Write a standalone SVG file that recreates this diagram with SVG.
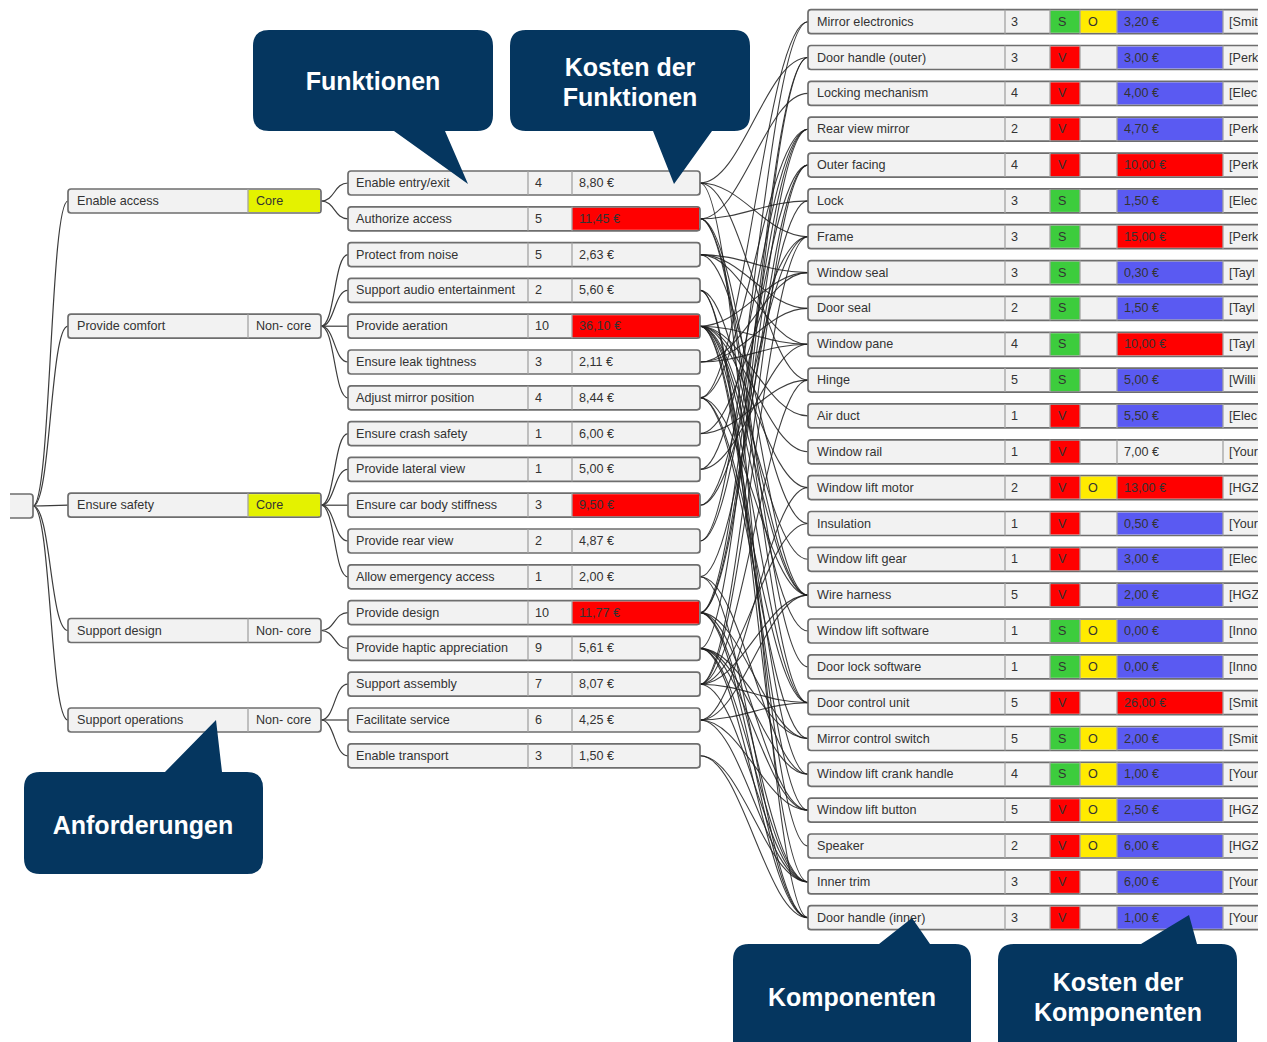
<svg xmlns="http://www.w3.org/2000/svg" xmlns:xlink="http://www.w3.org/1999/xlink" width="1267" height="1042" viewBox="0 0 1267 1042">
  <style>
    .box { fill:#f2f2f2; stroke:#6e6e6e; stroke-width:1.7; }
    .div { fill:none; stroke:#a3a3a3; stroke-width:1.3; }
    .t { font-family:"Liberation Sans", Arial, sans-serif; font-size:12.6px; fill:#333; }
    .red { fill:#ff0000; }
    .blue { fill:#5a5af2; }
    .grn { fill:#3dcc3d; }
    .ylw { fill:#ffeb00; }
    .core { fill:#e4f200; }
    .link { fill:none; stroke:#1c1c1c; stroke-width:1.1; stroke-opacity:0.85; }
    .tree { fill:none; stroke:#3c3c3c; stroke-width:1.2; }
    .callout { fill:#05365f; }
    .ct { font-family:"Liberation Sans", Arial, sans-serif; font-weight:bold; font-size:25px; fill:#ffffff; text-anchor:middle; }
  </style>
  <defs>
    <clipPath id="pageRight"><rect x="0" y="0" width="1258" height="1042"/></clipPath>
    <path id="funcDiv" class="div" d="M528,-12v24M572,-12v24"/>
    <path id="reqDiv" class="div" d="M248,-12v24"/>
    <path id="compDiv" class="div" d="M1005,-12v24M1050,-12v24M1080,-12v24M1117,-12v24M1223,-12v24"/>
  </defs>

  <rect width="1267" height="1042" fill="#ffffff"/>

  <!-- tree and allocation connectors -->
  <g id="connectors">
    <!-- root to requirements -->
    <path class="tree" d="M33,506C51,506 50,201 68,201"/>
    <path class="tree" d="M33,506C51,506 50,326.2 68,326.2"/>
    <path class="tree" d="M33,506C51,506 50,505.2 68,505.2"/>
    <path class="tree" d="M33,506C51,506 50,630.5 68,630.5"/>
    <path class="tree" d="M33,506C51,506 50,720 68,720"/>
    <!-- requirements to functions -->
    <path class="tree" d="M321,201C335,201 334,183 348,183"/>
    <path class="tree" d="M321,201C335,201 334,218.8 348,218.8"/>
    <path class="tree" d="M321,326.2C335,326.2 334,254.6 348,254.6"/>
    <path class="tree" d="M321,326.2C335,326.2 334,290.4 348,290.4"/>
    <path class="tree" d="M321,326.2C335,326.2 334,326.2 348,326.2"/>
    <path class="tree" d="M321,326.2C335,326.2 334,362 348,362"/>
    <path class="tree" d="M321,326.2C335,326.2 334,397.8 348,397.8"/>
    <path class="tree" d="M321,505.2C335,505.2 334,433.6 348,433.6"/>
    <path class="tree" d="M321,505.2C335,505.2 334,469.4 348,469.4"/>
    <path class="tree" d="M321,505.2C335,505.2 334,505.2 348,505.2"/>
    <path class="tree" d="M321,505.2C335,505.2 334,541 348,541"/>
    <path class="tree" d="M321,505.2C335,505.2 334,576.8 348,576.8"/>
    <path class="tree" d="M321,630.5C335,630.5 334,612.6 348,612.6"/>
    <path class="tree" d="M321,630.5C335,630.5 334,648.4 348,648.4"/>
    <path class="tree" d="M321,720C335,720 334,684.2 348,684.2"/>
    <path class="tree" d="M321,720C335,720 334,720 348,720"/>
    <path class="tree" d="M321,720C335,720 334,755.8 348,755.8"/>

    <!-- functions to components -->
    <path class="link" d="M700,183C742,183 766,57.5 808,57.5"/>
    <path class="link" d="M700,183C742,183 766,236.7 808,236.7"/>
    <path class="link" d="M700,183C742,183 766,380.1 808,380.1"/>
    <path class="link" d="M700,183C742,183 766,917.7 808,917.7"/>

    <path class="link" d="M700,218.8C742,218.8 766,93.4 808,93.4"/>
    <path class="link" d="M700,218.8C742,218.8 766,200.9 808,200.9"/>
    <path class="link" d="M700,218.8C742,218.8 766,666.8 808,666.8"/>
    <path class="link" d="M700,218.8C742,218.8 766,702.7 808,702.7"/>
    <path class="link" d="M700,218.8C742,218.8 766,595.1 808,595.1"/>

    <path class="link" d="M700,254.6C742,254.6 766,272.6 808,272.6"/>
    <path class="link" d="M700,254.6C742,254.6 766,308.4 808,308.4"/>
    <path class="link" d="M700,254.6C742,254.6 766,523.5 808,523.5"/>
    <path class="link" d="M700,254.6C742,254.6 766,344.3 808,344.3"/>

    <path class="link" d="M700,290.4C742,290.4 766,846 808,846"/>
    <path class="link" d="M700,290.4C742,290.4 766,881.9 808,881.9"/>
    <path class="link" d="M700,290.4C742,290.4 766,595.1 808,595.1"/>

    <path class="link" d="M700,326.2C742,326.2 766,344.3 808,344.3"/>
    <path class="link" d="M700,326.2C742,326.2 766,415.9 808,415.9"/>
    <path class="link" d="M700,326.2C742,326.2 766,451.8 808,451.8"/>
    <path class="link" d="M700,326.2C742,326.2 766,487.6 808,487.6"/>
    <path class="link" d="M700,326.2C742,326.2 766,559.3 808,559.3"/>
    <path class="link" d="M700,326.2C742,326.2 766,595.1 808,595.1"/>
    <path class="link" d="M700,326.2C742,326.2 766,631 808,631"/>
    <path class="link" d="M700,326.2C742,326.2 766,702.7 808,702.7"/>
    <path class="link" d="M700,326.2C742,326.2 766,774.3 808,774.3"/>
    <path class="link" d="M700,326.2C742,326.2 766,810.2 808,810.2"/>
    <path class="link" d="M700,326.2C742,326.2 766,272.6 808,272.6"/>

    <path class="link" d="M700,362C742,362 766,272.6 808,272.6"/>
    <path class="link" d="M700,362C742,362 766,308.4 808,308.4"/>
    <path class="link" d="M700,362C742,362 766,344.3 808,344.3"/>

    <path class="link" d="M700,397.8C742,397.8 766,21.7 808,21.7"/>
    <path class="link" d="M700,397.8C742,397.8 766,129.2 808,129.2"/>
    <path class="link" d="M700,397.8C742,397.8 766,738.5 808,738.5"/>
    <path class="link" d="M700,397.8C742,397.8 766,595.1 808,595.1"/>
    <path class="link" d="M700,397.8C742,397.8 766,702.7 808,702.7"/>

    <path class="link" d="M700,433.6C742,433.6 766,236.7 808,236.7"/>
    <path class="link" d="M700,433.6C742,433.6 766,380.1 808,380.1"/>

    <path class="link" d="M700,469.4C742,469.4 766,344.3 808,344.3"/>
    <path class="link" d="M700,469.4C742,469.4 766,129.2 808,129.2"/>

    <path class="link" d="M700,505.2C742,505.2 766,236.7 808,236.7"/>
    <path class="link" d="M700,505.2C742,505.2 766,165.1 808,165.1"/>

    <path class="link" d="M700,541C742,541 766,129.2 808,129.2"/>
    <path class="link" d="M700,541C742,541 766,21.7 808,21.7"/>

    <path class="link" d="M700,576.8C742,576.8 766,774.3 808,774.3"/>
    <path class="link" d="M700,576.8C742,576.8 766,917.7 808,917.7"/>
    <path class="link" d="M700,576.8C742,576.8 766,200.9 808,200.9"/>

    <path class="link" d="M700,612.6C742,612.6 766,165.1 808,165.1"/>
    <path class="link" d="M700,612.6C742,612.6 766,57.5 808,57.5"/>
    <path class="link" d="M700,612.6C742,612.6 766,881.9 808,881.9"/>
    <path class="link" d="M700,612.6C742,612.6 766,129.2 808,129.2"/>
    <path class="link" d="M700,612.6C742,612.6 766,917.7 808,917.7"/>
    <path class="link" d="M700,612.6C742,612.6 766,810.2 808,810.2"/>
    <path class="link" d="M700,612.6C742,612.6 766,738.5 808,738.5"/>

    <path class="link" d="M700,648.4C742,648.4 766,57.5 808,57.5"/>
    <path class="link" d="M700,648.4C742,648.4 766,917.7 808,917.7"/>
    <path class="link" d="M700,648.4C742,648.4 766,810.2 808,810.2"/>
    <path class="link" d="M700,648.4C742,648.4 766,738.5 808,738.5"/>
    <path class="link" d="M700,648.4C742,648.4 766,774.3 808,774.3"/>
    <path class="link" d="M700,648.4C742,648.4 766,881.9 808,881.9"/>

    <path class="link" d="M700,684.2C742,684.2 766,236.7 808,236.7"/>
    <path class="link" d="M700,684.2C742,684.2 766,380.1 808,380.1"/>
    <path class="link" d="M700,684.2C742,684.2 766,595.1 808,595.1"/>
    <path class="link" d="M700,684.2C742,684.2 766,702.7 808,702.7"/>
    <path class="link" d="M700,684.2C742,684.2 766,881.9 808,881.9"/>
    <path class="link" d="M700,684.2C742,684.2 766,165.1 808,165.1"/>
    <path class="link" d="M700,684.2C742,684.2 766,523.5 808,523.5"/>

    <path class="link" d="M700,720C742,720 766,702.7 808,702.7"/>
    <path class="link" d="M700,720C742,720 766,595.1 808,595.1"/>
    <path class="link" d="M700,720C742,720 766,881.9 808,881.9"/>
    <path class="link" d="M700,720C742,720 766,487.6 808,487.6"/>
    <path class="link" d="M700,720C742,720 766,810.2 808,810.2"/>

    <path class="link" d="M700,755.8C742,755.8 766,881.9 808,881.9"/>
    <path class="link" d="M700,755.8C742,755.8 766,917.7 808,917.7"/>
  </g>

  <!-- root -->
  <g id="root">
    <path class="box" d="M10,494H30Q33,494 33,497V515Q33,518 30,518H10"/>
  </g>

  <!-- requirements -->
  <g id="req-enable-access" transform="translate(0,201)">
    <rect class="box" x="68" y="-12" width="253" height="24" rx="3"/>
    <rect class="core" x="248" y="-11" width="72" height="22"/>
    <use href="#reqDiv"/>
    <text class="t" x="77" y="4">Enable access</text>
    <text class="t" x="256" y="4">Core</text>
  </g>
  <g id="req-provide-comfort" transform="translate(0,326.2)">
    <rect class="box" x="68" y="-12" width="253" height="24" rx="3"/>
    <use href="#reqDiv"/>
    <text class="t" x="77" y="4">Provide comfort</text>
    <text class="t" x="256" y="4">Non- core</text>
  </g>
  <g id="req-ensure-safety" transform="translate(0,505.2)">
    <rect class="box" x="68" y="-12" width="253" height="24" rx="3"/>
    <rect class="core" x="248" y="-11" width="72" height="22"/>
    <use href="#reqDiv"/>
    <text class="t" x="77" y="4">Ensure safety</text>
    <text class="t" x="256" y="4">Core</text>
  </g>
  <g id="req-support-design" transform="translate(0,630.5)">
    <rect class="box" x="68" y="-12" width="253" height="24" rx="3"/>
    <use href="#reqDiv"/>
    <text class="t" x="77" y="4">Support design</text>
    <text class="t" x="256" y="4">Non- core</text>
  </g>
  <g id="req-support-operations" transform="translate(0,720)">
    <rect class="box" x="68" y="-12" width="253" height="24" rx="3"/>
    <use href="#reqDiv"/>
    <text class="t" x="77" y="4">Support operations</text>
    <text class="t" x="256" y="4">Non- core</text>
  </g>

  <!-- functions -->
  <g id="fn-enable-entry-exit" transform="translate(0,183)">
    <rect class="box" x="348" y="-12" width="352" height="24" rx="3"/>
    <use href="#funcDiv"/>
    <text class="t" x="356" y="4">Enable entry/exit</text><text class="t" x="535" y="4">4</text><text class="t" x="579" y="4">8,80 €</text>
  </g>
  <g id="fn-authorize-access" transform="translate(0,218.8)">
    <rect class="box" x="348" y="-12" width="352" height="24" rx="3"/>
    <rect class="red" x="572" y="-11" width="127" height="22"/>
    <use href="#funcDiv"/>
    <text class="t" x="356" y="4">Authorize access</text><text class="t" x="535" y="4">5</text><text class="t" x="579" y="4">11,45 €</text>
  </g>
  <g id="fn-protect-from-noise" transform="translate(0,254.6)">
    <rect class="box" x="348" y="-12" width="352" height="24" rx="3"/>
    <use href="#funcDiv"/>
    <text class="t" x="356" y="4">Protect from noise</text><text class="t" x="535" y="4">5</text><text class="t" x="579" y="4">2,63 €</text>
  </g>
  <g id="fn-support-audio" transform="translate(0,290.4)">
    <rect class="box" x="348" y="-12" width="352" height="24" rx="3"/>
    <use href="#funcDiv"/>
    <text class="t" x="356" y="4">Support audio entertainment</text><text class="t" x="535" y="4">2</text><text class="t" x="579" y="4">5,60 €</text>
  </g>
  <g id="fn-provide-aeration" transform="translate(0,326.2)">
    <rect class="box" x="348" y="-12" width="352" height="24" rx="3"/>
    <rect class="red" x="572" y="-11" width="127" height="22"/>
    <use href="#funcDiv"/>
    <text class="t" x="356" y="4">Provide aeration</text><text class="t" x="535" y="4">10</text><text class="t" x="579" y="4">36,10 €</text>
  </g>
  <g id="fn-ensure-leak-tightness" transform="translate(0,362)">
    <rect class="box" x="348" y="-12" width="352" height="24" rx="3"/>
    <use href="#funcDiv"/>
    <text class="t" x="356" y="4">Ensure leak tightness</text><text class="t" x="535" y="4">3</text><text class="t" x="579" y="4">2,11 €</text>
  </g>
  <g id="fn-adjust-mirror" transform="translate(0,397.8)">
    <rect class="box" x="348" y="-12" width="352" height="24" rx="3"/>
    <use href="#funcDiv"/>
    <text class="t" x="356" y="4">Adjust mirror position</text><text class="t" x="535" y="4">4</text><text class="t" x="579" y="4">8,44 €</text>
  </g>
  <g id="fn-ensure-crash-safety" transform="translate(0,433.6)">
    <rect class="box" x="348" y="-12" width="352" height="24" rx="3"/>
    <use href="#funcDiv"/>
    <text class="t" x="356" y="4">Ensure crash safety</text><text class="t" x="535" y="4">1</text><text class="t" x="579" y="4">6,00 €</text>
  </g>
  <g id="fn-provide-lateral-view" transform="translate(0,469.4)">
    <rect class="box" x="348" y="-12" width="352" height="24" rx="3"/>
    <use href="#funcDiv"/>
    <text class="t" x="356" y="4">Provide lateral view</text><text class="t" x="535" y="4">1</text><text class="t" x="579" y="4">5,00 €</text>
  </g>
  <g id="fn-body-stiffness" transform="translate(0,505.2)">
    <rect class="box" x="348" y="-12" width="352" height="24" rx="3"/>
    <rect class="red" x="572" y="-11" width="127" height="22"/>
    <use href="#funcDiv"/>
    <text class="t" x="356" y="4">Ensure car body stiffness</text><text class="t" x="535" y="4">3</text><text class="t" x="579" y="4">9,50 €</text>
  </g>
  <g id="fn-provide-rear-view" transform="translate(0,541)">
    <rect class="box" x="348" y="-12" width="352" height="24" rx="3"/>
    <use href="#funcDiv"/>
    <text class="t" x="356" y="4">Provide rear view</text><text class="t" x="535" y="4">2</text><text class="t" x="579" y="4">4,87 €</text>
  </g>
  <g id="fn-emergency-access" transform="translate(0,576.8)">
    <rect class="box" x="348" y="-12" width="352" height="24" rx="3"/>
    <use href="#funcDiv"/>
    <text class="t" x="356" y="4">Allow emergency access</text><text class="t" x="535" y="4">1</text><text class="t" x="579" y="4">2,00 €</text>
  </g>
  <g id="fn-provide-design" transform="translate(0,612.6)">
    <rect class="box" x="348" y="-12" width="352" height="24" rx="3"/>
    <rect class="red" x="572" y="-11" width="127" height="22"/>
    <use href="#funcDiv"/>
    <text class="t" x="356" y="4">Provide design</text><text class="t" x="535" y="4">10</text><text class="t" x="579" y="4">11,77 €</text>
  </g>
  <g id="fn-haptic" transform="translate(0,648.4)">
    <rect class="box" x="348" y="-12" width="352" height="24" rx="3"/>
    <use href="#funcDiv"/>
    <text class="t" x="356" y="4">Provide haptic appreciation</text><text class="t" x="535" y="4">9</text><text class="t" x="579" y="4">5,61 €</text>
  </g>
  <g id="fn-support-assembly" transform="translate(0,684.2)">
    <rect class="box" x="348" y="-12" width="352" height="24" rx="3"/>
    <use href="#funcDiv"/>
    <text class="t" x="356" y="4">Support assembly</text><text class="t" x="535" y="4">7</text><text class="t" x="579" y="4">8,07 €</text>
  </g>
  <g id="fn-facilitate-service" transform="translate(0,720)">
    <rect class="box" x="348" y="-12" width="352" height="24" rx="3"/>
    <use href="#funcDiv"/>
    <text class="t" x="356" y="4">Facilitate service</text><text class="t" x="535" y="4">6</text><text class="t" x="579" y="4">4,25 €</text>
  </g>
  <g id="fn-enable-transport" transform="translate(0,755.8)">
    <rect class="box" x="348" y="-12" width="352" height="24" rx="3"/>
    <use href="#funcDiv"/>
    <text class="t" x="356" y="4">Enable transport</text><text class="t" x="535" y="4">3</text><text class="t" x="579" y="4">1,50 €</text>
  </g>

  <!-- components (table runs past the right page edge) -->
  <g id="components" clip-path="url(#pageRight)">
    <g id="cmp-mirror-electronics" transform="translate(0,21.7)">
      <rect class="box" x="808" y="-12" width="480" height="24" rx="3"/>
      <rect class="grn" x="1050" y="-11" width="30" height="22"/><rect class="ylw" x="1080" y="-11" width="37" height="22"/><rect class="blue" x="1117" y="-11" width="106" height="22"/>
      <use href="#compDiv"/>
      <text class="t" x="817" y="4">Mirror electronics</text><text class="t" x="1011" y="4">3</text><text class="t" x="1058" y="4">S</text><text class="t" x="1088" y="4">O</text><text class="t" x="1124" y="4">3,20 €</text><text class="t" x="1229" y="4">[Smit</text>
    </g>
    <g id="cmp-door-handle-outer" transform="translate(0,57.5)">
      <rect class="box" x="808" y="-12" width="480" height="24" rx="3"/>
      <rect class="red" x="1050" y="-11" width="30" height="22"/><rect class="blue" x="1117" y="-11" width="106" height="22"/>
      <use href="#compDiv"/>
      <text class="t" x="817" y="4">Door handle (outer)</text><text class="t" x="1011" y="4">3</text><text class="t" x="1058" y="4">V</text><text class="t" x="1124" y="4">3,00 €</text><text class="t" x="1229" y="4">[Perk</text>
    </g>
    <g id="cmp-locking-mechanism" transform="translate(0,93.4)">
      <rect class="box" x="808" y="-12" width="480" height="24" rx="3"/>
      <rect class="red" x="1050" y="-11" width="30" height="22"/><rect class="blue" x="1117" y="-11" width="106" height="22"/>
      <use href="#compDiv"/>
      <text class="t" x="817" y="4">Locking mechanism</text><text class="t" x="1011" y="4">4</text><text class="t" x="1058" y="4">V</text><text class="t" x="1124" y="4">4,00 €</text><text class="t" x="1229" y="4">[Elec</text>
    </g>
    <g id="cmp-rear-view-mirror" transform="translate(0,129.2)">
      <rect class="box" x="808" y="-12" width="480" height="24" rx="3"/>
      <rect class="red" x="1050" y="-11" width="30" height="22"/><rect class="blue" x="1117" y="-11" width="106" height="22"/>
      <use href="#compDiv"/>
      <text class="t" x="817" y="4">Rear view mirror</text><text class="t" x="1011" y="4">2</text><text class="t" x="1058" y="4">V</text><text class="t" x="1124" y="4">4,70 €</text><text class="t" x="1229" y="4">[Perk</text>
    </g>
    <g id="cmp-outer-facing" transform="translate(0,165.1)">
      <rect class="box" x="808" y="-12" width="480" height="24" rx="3"/>
      <rect class="red" x="1050" y="-11" width="30" height="22"/><rect class="red" x="1117" y="-11" width="106" height="22"/>
      <use href="#compDiv"/>
      <text class="t" x="817" y="4">Outer facing</text><text class="t" x="1011" y="4">4</text><text class="t" x="1058" y="4">V</text><text class="t" x="1124" y="4">10,00 €</text><text class="t" x="1229" y="4">[Perk</text>
    </g>
    <g id="cmp-lock" transform="translate(0,200.9)">
      <rect class="box" x="808" y="-12" width="480" height="24" rx="3"/>
      <rect class="grn" x="1050" y="-11" width="30" height="22"/><rect class="blue" x="1117" y="-11" width="106" height="22"/>
      <use href="#compDiv"/>
      <text class="t" x="817" y="4">Lock</text><text class="t" x="1011" y="4">3</text><text class="t" x="1058" y="4">S</text><text class="t" x="1124" y="4">1,50 €</text><text class="t" x="1229" y="4">[Elec</text>
    </g>
    <g id="cmp-frame" transform="translate(0,236.7)">
      <rect class="box" x="808" y="-12" width="480" height="24" rx="3"/>
      <rect class="grn" x="1050" y="-11" width="30" height="22"/><rect class="red" x="1117" y="-11" width="106" height="22"/>
      <use href="#compDiv"/>
      <text class="t" x="817" y="4">Frame</text><text class="t" x="1011" y="4">3</text><text class="t" x="1058" y="4">S</text><text class="t" x="1124" y="4">15,00 €</text><text class="t" x="1229" y="4">[Perk</text>
    </g>
    <g id="cmp-window-seal" transform="translate(0,272.6)">
      <rect class="box" x="808" y="-12" width="480" height="24" rx="3"/>
      <rect class="grn" x="1050" y="-11" width="30" height="22"/><rect class="blue" x="1117" y="-11" width="106" height="22"/>
      <use href="#compDiv"/>
      <text class="t" x="817" y="4">Window seal</text><text class="t" x="1011" y="4">3</text><text class="t" x="1058" y="4">S</text><text class="t" x="1124" y="4">0,30 €</text><text class="t" x="1229" y="4">[Tayl</text>
    </g>
    <g id="cmp-door-seal" transform="translate(0,308.4)">
      <rect class="box" x="808" y="-12" width="480" height="24" rx="3"/>
      <rect class="grn" x="1050" y="-11" width="30" height="22"/><rect class="blue" x="1117" y="-11" width="106" height="22"/>
      <use href="#compDiv"/>
      <text class="t" x="817" y="4">Door seal</text><text class="t" x="1011" y="4">2</text><text class="t" x="1058" y="4">S</text><text class="t" x="1124" y="4">1,50 €</text><text class="t" x="1229" y="4">[Tayl</text>
    </g>
    <g id="cmp-window-pane" transform="translate(0,344.3)">
      <rect class="box" x="808" y="-12" width="480" height="24" rx="3"/>
      <rect class="grn" x="1050" y="-11" width="30" height="22"/><rect class="red" x="1117" y="-11" width="106" height="22"/>
      <use href="#compDiv"/>
      <text class="t" x="817" y="4">Window pane</text><text class="t" x="1011" y="4">4</text><text class="t" x="1058" y="4">S</text><text class="t" x="1124" y="4">10,00 €</text><text class="t" x="1229" y="4">[Tayl</text>
    </g>
    <g id="cmp-hinge" transform="translate(0,380.1)">
      <rect class="box" x="808" y="-12" width="480" height="24" rx="3"/>
      <rect class="grn" x="1050" y="-11" width="30" height="22"/><rect class="blue" x="1117" y="-11" width="106" height="22"/>
      <use href="#compDiv"/>
      <text class="t" x="817" y="4">Hinge</text><text class="t" x="1011" y="4">5</text><text class="t" x="1058" y="4">S</text><text class="t" x="1124" y="4">5,00 €</text><text class="t" x="1229" y="4">[Willi</text>
    </g>
    <g id="cmp-air-duct" transform="translate(0,415.9)">
      <rect class="box" x="808" y="-12" width="480" height="24" rx="3"/>
      <rect class="red" x="1050" y="-11" width="30" height="22"/><rect class="blue" x="1117" y="-11" width="106" height="22"/>
      <use href="#compDiv"/>
      <text class="t" x="817" y="4">Air duct</text><text class="t" x="1011" y="4">1</text><text class="t" x="1058" y="4">V</text><text class="t" x="1124" y="4">5,50 €</text><text class="t" x="1229" y="4">[Elec</text>
    </g>
    <g id="cmp-window-rail" transform="translate(0,451.8)">
      <rect class="box" x="808" y="-12" width="480" height="24" rx="3"/>
      <rect class="red" x="1050" y="-11" width="30" height="22"/>
      <use href="#compDiv"/>
      <text class="t" x="817" y="4">Window rail</text><text class="t" x="1011" y="4">1</text><text class="t" x="1058" y="4">V</text><text class="t" x="1124" y="4">7,00 €</text><text class="t" x="1229" y="4">[Your</text>
    </g>
    <g id="cmp-window-lift-motor" transform="translate(0,487.6)">
      <rect class="box" x="808" y="-12" width="480" height="24" rx="3"/>
      <rect class="red" x="1050" y="-11" width="30" height="22"/><rect class="ylw" x="1080" y="-11" width="37" height="22"/><rect class="red" x="1117" y="-11" width="106" height="22"/>
      <use href="#compDiv"/>
      <text class="t" x="817" y="4">Window lift motor</text><text class="t" x="1011" y="4">2</text><text class="t" x="1058" y="4">V</text><text class="t" x="1088" y="4">O</text><text class="t" x="1124" y="4">13,00 €</text><text class="t" x="1229" y="4">[HGZ</text>
    </g>
    <g id="cmp-insulation" transform="translate(0,523.5)">
      <rect class="box" x="808" y="-12" width="480" height="24" rx="3"/>
      <rect class="red" x="1050" y="-11" width="30" height="22"/><rect class="blue" x="1117" y="-11" width="106" height="22"/>
      <use href="#compDiv"/>
      <text class="t" x="817" y="4">Insulation</text><text class="t" x="1011" y="4">1</text><text class="t" x="1058" y="4">V</text><text class="t" x="1124" y="4">0,50 €</text><text class="t" x="1229" y="4">[Your</text>
    </g>
    <g id="cmp-window-lift-gear" transform="translate(0,559.3)">
      <rect class="box" x="808" y="-12" width="480" height="24" rx="3"/>
      <rect class="red" x="1050" y="-11" width="30" height="22"/><rect class="blue" x="1117" y="-11" width="106" height="22"/>
      <use href="#compDiv"/>
      <text class="t" x="817" y="4">Window lift gear</text><text class="t" x="1011" y="4">1</text><text class="t" x="1058" y="4">V</text><text class="t" x="1124" y="4">3,00 €</text><text class="t" x="1229" y="4">[Elec</text>
    </g>
    <g id="cmp-wire-harness" transform="translate(0,595.1)">
      <rect class="box" x="808" y="-12" width="480" height="24" rx="3"/>
      <rect class="red" x="1050" y="-11" width="30" height="22"/><rect class="blue" x="1117" y="-11" width="106" height="22"/>
      <use href="#compDiv"/>
      <text class="t" x="817" y="4">Wire harness</text><text class="t" x="1011" y="4">5</text><text class="t" x="1058" y="4">V</text><text class="t" x="1124" y="4">2,00 €</text><text class="t" x="1229" y="4">[HGZ</text>
    </g>
    <g id="cmp-window-lift-software" transform="translate(0,631)">
      <rect class="box" x="808" y="-12" width="480" height="24" rx="3"/>
      <rect class="grn" x="1050" y="-11" width="30" height="22"/><rect class="ylw" x="1080" y="-11" width="37" height="22"/><rect class="blue" x="1117" y="-11" width="106" height="22"/>
      <use href="#compDiv"/>
      <text class="t" x="817" y="4">Window lift software</text><text class="t" x="1011" y="4">1</text><text class="t" x="1058" y="4">S</text><text class="t" x="1088" y="4">O</text><text class="t" x="1124" y="4">0,00 €</text><text class="t" x="1229" y="4">[Inno</text>
    </g>
    <g id="cmp-door-lock-software" transform="translate(0,666.8)">
      <rect class="box" x="808" y="-12" width="480" height="24" rx="3"/>
      <rect class="grn" x="1050" y="-11" width="30" height="22"/><rect class="ylw" x="1080" y="-11" width="37" height="22"/><rect class="blue" x="1117" y="-11" width="106" height="22"/>
      <use href="#compDiv"/>
      <text class="t" x="817" y="4">Door lock software</text><text class="t" x="1011" y="4">1</text><text class="t" x="1058" y="4">S</text><text class="t" x="1088" y="4">O</text><text class="t" x="1124" y="4">0,00 €</text><text class="t" x="1229" y="4">[Inno</text>
    </g>
    <g id="cmp-door-control-unit" transform="translate(0,702.7)">
      <rect class="box" x="808" y="-12" width="480" height="24" rx="3"/>
      <rect class="red" x="1050" y="-11" width="30" height="22"/><rect class="red" x="1117" y="-11" width="106" height="22"/>
      <use href="#compDiv"/>
      <text class="t" x="817" y="4">Door control unit</text><text class="t" x="1011" y="4">5</text><text class="t" x="1058" y="4">V</text><text class="t" x="1124" y="4">26,00 €</text><text class="t" x="1229" y="4">[Smit</text>
    </g>
    <g id="cmp-mirror-control-switch" transform="translate(0,738.5)">
      <rect class="box" x="808" y="-12" width="480" height="24" rx="3"/>
      <rect class="grn" x="1050" y="-11" width="30" height="22"/><rect class="ylw" x="1080" y="-11" width="37" height="22"/><rect class="blue" x="1117" y="-11" width="106" height="22"/>
      <use href="#compDiv"/>
      <text class="t" x="817" y="4">Mirror control switch</text><text class="t" x="1011" y="4">5</text><text class="t" x="1058" y="4">S</text><text class="t" x="1088" y="4">O</text><text class="t" x="1124" y="4">2,00 €</text><text class="t" x="1229" y="4">[Smit</text>
    </g>
    <g id="cmp-crank-handle" transform="translate(0,774.3)">
      <rect class="box" x="808" y="-12" width="480" height="24" rx="3"/>
      <rect class="grn" x="1050" y="-11" width="30" height="22"/><rect class="ylw" x="1080" y="-11" width="37" height="22"/><rect class="blue" x="1117" y="-11" width="106" height="22"/>
      <use href="#compDiv"/>
      <text class="t" x="817" y="4">Window lift crank handle</text><text class="t" x="1011" y="4">4</text><text class="t" x="1058" y="4">S</text><text class="t" x="1088" y="4">O</text><text class="t" x="1124" y="4">1,00 €</text><text class="t" x="1229" y="4">[Your</text>
    </g>
    <g id="cmp-window-lift-button" transform="translate(0,810.2)">
      <rect class="box" x="808" y="-12" width="480" height="24" rx="3"/>
      <rect class="red" x="1050" y="-11" width="30" height="22"/><rect class="ylw" x="1080" y="-11" width="37" height="22"/><rect class="blue" x="1117" y="-11" width="106" height="22"/>
      <use href="#compDiv"/>
      <text class="t" x="817" y="4">Window lift button</text><text class="t" x="1011" y="4">5</text><text class="t" x="1058" y="4">V</text><text class="t" x="1088" y="4">O</text><text class="t" x="1124" y="4">2,50 €</text><text class="t" x="1229" y="4">[HGZ</text>
    </g>
    <g id="cmp-speaker" transform="translate(0,846)">
      <rect class="box" x="808" y="-12" width="480" height="24" rx="3"/>
      <rect class="red" x="1050" y="-11" width="30" height="22"/><rect class="ylw" x="1080" y="-11" width="37" height="22"/><rect class="blue" x="1117" y="-11" width="106" height="22"/>
      <use href="#compDiv"/>
      <text class="t" x="817" y="4">Speaker</text><text class="t" x="1011" y="4">2</text><text class="t" x="1058" y="4">V</text><text class="t" x="1088" y="4">O</text><text class="t" x="1124" y="4">6,00 €</text><text class="t" x="1229" y="4">[HGZ</text>
    </g>
    <g id="cmp-inner-trim" transform="translate(0,881.9)">
      <rect class="box" x="808" y="-12" width="480" height="24" rx="3"/>
      <rect class="red" x="1050" y="-11" width="30" height="22"/><rect class="blue" x="1117" y="-11" width="106" height="22"/>
      <use href="#compDiv"/>
      <text class="t" x="817" y="4">Inner trim</text><text class="t" x="1011" y="4">3</text><text class="t" x="1058" y="4">V</text><text class="t" x="1124" y="4">6,00 €</text><text class="t" x="1229" y="4">[Your</text>
    </g>
    <g id="cmp-door-handle-inner" transform="translate(0,917.7)">
      <rect class="box" x="808" y="-12" width="480" height="24" rx="3"/>
      <rect class="red" x="1050" y="-11" width="30" height="22"/><rect class="blue" x="1117" y="-11" width="106" height="22"/>
      <use href="#compDiv"/>
      <text class="t" x="817" y="4">Door handle (inner)</text><text class="t" x="1011" y="4">3</text><text class="t" x="1058" y="4">V</text><text class="t" x="1124" y="4">1,00 €</text><text class="t" x="1229" y="4">[Your</text>
    </g>
  </g>

  <!-- speech-bubble labels -->
  <g id="label-funktionen">
    <path class="callout" d="M269,30H477Q493,30 493,46V115Q493,131 477,131H445L468,184L394,131H269Q253,131 253,115V46Q253,30 269,30Z"/>
    <text class="ct" x="373" y="90">Funktionen</text>
  </g>
  <g id="label-kosten-funktionen">
    <path class="callout" d="M526,30H734Q750,30 750,46V115Q750,131 734,131H712L674,184L653,131H526Q510,131 510,115V46Q510,30 526,30Z"/>
    <text class="ct" x="630" y="76">Kosten der</text>
    <text class="ct" x="630" y="106">Funktionen</text>
  </g>
  <g id="label-anforderungen">
    <path class="callout" d="M40,772H165L216,720L222,772H247Q263,772 263,788V858Q263,874 247,874H40Q24,874 24,858V788Q24,772 40,772Z"/>
    <text class="ct" x="143" y="834">Anforderungen</text>
  </g>
  <g id="label-komponenten">
    <path class="callout" d="M749,944H879L912,918L930,944H955Q971,944 971,960V1060H733V960Q733,944 749,944Z"/>
    <text class="ct" x="852" y="1006">Komponenten</text>
  </g>
  <g id="label-kosten-komponenten">
    <path class="callout" d="M1014,944H1141L1189,915L1197,944H1221Q1237,944 1237,960V1060H998V960Q998,944 1014,944Z"/>
    <text class="ct" x="1118" y="991">Kosten der</text>
    <text class="ct" x="1118" y="1021">Komponenten</text>
  </g>
</svg>
